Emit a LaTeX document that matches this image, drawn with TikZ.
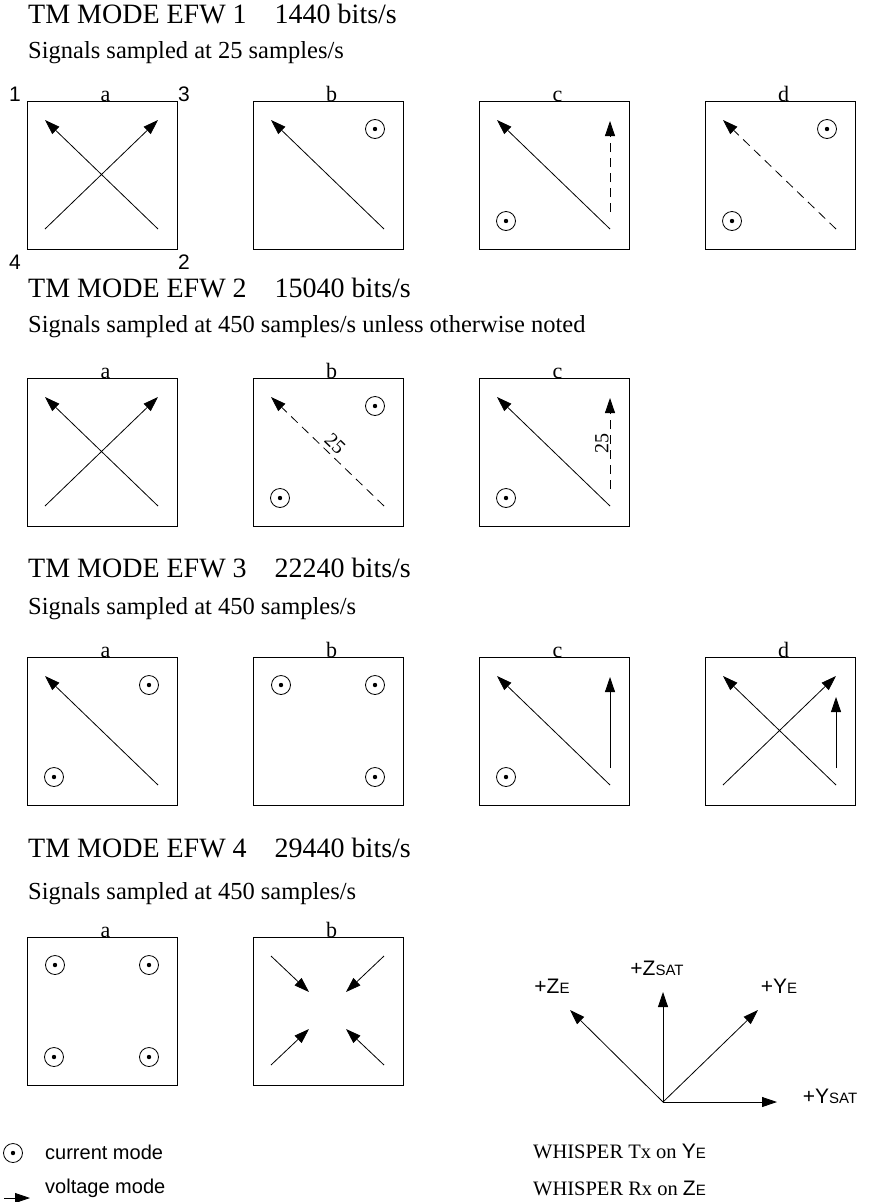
\documentclass[tikz,border=0pt]{standalone}
\usepackage{fontspec}
\setmainfont{Liberation Serif}
\setsansfont{Liberation Sans}
\usetikzlibrary{arrows.meta, positioning}

% corner points inside one 150x148 panel (y runs down)
\newcommand{\pts}{%
  \coordinate (tl) at (18,19);
  \coordinate (tr) at (131,19);
  \coordinate (bl) at (18,128);
  \coordinate (br) at (131,128);
  \coordinate (vb) at (131,111);
  \coordinate (vt) at (131,20);
  \coordinate (ctl) at (28,28);
  \coordinate (ctr) at (122,28);
  \coordinate (cbl) at (27,120);
  \coordinate (cbr) at (122,120);
}
\newcommand{\axlab}[2]{{\sffamily\fontsize{21}{24}\selectfont #1\fontsize{15}{18}\selectfont #2}}

\begin{document}
\begin{tikzpicture}[x=1pt, y=-1pt,
    panel/.style={draw, line width=1pt, minimum width=150pt, minimum height=148pt, inner sep=0pt},
    ttl/.style={anchor=base west, inner sep=0pt, font=\fontsize{28}{32}\selectfont},
    sub/.style={anchor=base west, inner sep=0pt, font=\fontsize{24.5}{28}\selectfont},
    tag/.style={anchor=base, inner sep=0pt, xshift=3pt, font=\fontsize{22}{24}\selectfont},
    num/.style={inner sep=0pt, font=\sffamily\fontsize{21}{24}\selectfont},
    cur/.style={circle, draw, line width=0.8pt, minimum size=19pt, inner sep=0pt,
        path picture={\fill (path picture bounding box.center) circle (2.2pt);}},
    volt/.style={line width=0.8pt, -{Triangle[length=15pt, width=10pt]}},
    dsh/.style={dash pattern=on 9pt off 6pt},
    rate/.style={inner sep=1pt, font=\fontsize{20}{22}\selectfont},
    leg/.style={anchor=base west, inner sep=0pt, font=\sffamily\fontsize{20}{24}\selectfont},
    wsp/.style={anchor=base west, inner sep=0pt, font=\fontsize{20.5}{24}\selectfont}]

\path[use as bounding box, fill=white] (0,0) rectangle (868,1202);

% EFW 1
\node[ttl] (t1) at (28,23) {TM MODE EFW 1\quad 1440 bits/s};
\node[sub] (s1) at (28,58) {Signals sampled at 25 samples/s};
\node[panel, anchor=north west] (p1a) at (27,101) {};
\node[panel, right=75pt of p1a] (p1b) {};
\node[panel, right=75pt of p1b] (p1c) {};
\node[panel, right=75pt of p1c] (p1d) {};
\foreach \p/\t in {p1a/a, p1b/b, p1c/c, p1d/d}
  \node[tag] (\p-tag) at (\p.north) {\t};
\node[num] (n1) at ([xshift=-12pt, yshift=7pt]p1a.north west) {1};
\node[num] (n3) at ([xshift=6pt, yshift=7pt]p1a.north east) {3};
\node[num] (n4) at ([xshift=-12pt, yshift=-12pt]p1a.south west) {4};
\node[num] (n2) at ([xshift=6pt, yshift=-12pt]p1a.south east) {2};

\begin{scope}[shift={(p1a.north west)}]
  \pts
  \draw[volt] (bl) -- (tr);
  \draw[volt] (br) -- (tl);
\end{scope}
\begin{scope}[shift={(p1b.north west)}]
  \pts
  \draw[volt] (br) -- (tl);
  \node[cur] (i1b) at (ctr) {};
\end{scope}
\begin{scope}[shift={(p1c.north west)}]
  \pts
  \draw[volt] (br) -- (tl);
  \draw[volt, dsh] (vb) -- (vt);
  \node[cur] (i1c) at (cbl) {};
\end{scope}
\begin{scope}[shift={(p1d.north west)}]
  \pts
  \draw[volt, dsh] (br) -- (tl);
  \node[cur] (i1d1) at (ctr) {};
  \node[cur] (i1d2) at (cbl) {};
\end{scope}

% EFW 2
\node[ttl] (t2) at (28,297) {TM MODE EFW 2\quad 15040 bits/s};
\node[sub] (s2) at (28,332) {Signals sampled at 450 samples/s unless otherwise noted};
\node[panel, anchor=north west] (p2a) at (27,378) {};
\node[panel, right=75pt of p2a] (p2b) {};
\node[panel, right=75pt of p2b] (p2c) {};
\foreach \p/\t in {p2a/a, p2b/b, p2c/c}
  \node[tag] (\p-tag) at (\p.north) {\t};

\begin{scope}[shift={(p2a.north west)}]
  \pts
  \draw[volt] (bl) -- (tr);
  \draw[volt] (br) -- (tl);
\end{scope}
\begin{scope}[shift={(p2b.north west)}]
  \pts
  \draw[volt, dsh] (br) -- node[rate, sloped, above=3pt] {25} (tl);
  \node[cur] (i2b1) at (ctr) {};
  \node[cur] (i2b2) at (cbl) {};
\end{scope}
\begin{scope}[shift={(p2c.north west)}]
  \pts
  \draw[volt] (br) -- (tl);
  \draw[volt, dsh] (vb) -- node[rate, sloped, above] {25} (vt);
  \node[cur] (i2c) at (cbl) {};
\end{scope}

% EFW 3
\node[ttl] (t3) at (28,577) {TM MODE EFW 3\quad 22240 bits/s};
\node[sub] (s3) at (28,614) {Signals sampled at 450 samples/s};
\node[panel, anchor=north west] (p3a) at (27,657) {};
\node[panel, right=75pt of p3a] (p3b) {};
\node[panel, right=75pt of p3b] (p3c) {};
\node[panel, right=75pt of p3c] (p3d) {};
\foreach \p/\t in {p3a/a, p3b/b, p3c/c, p3d/d}
  \node[tag] (\p-tag) at (\p.north) {\t};

\begin{scope}[shift={(p3a.north west)}]
  \pts
  \draw[volt] (br) -- (tl);
  \node[cur] (i3a1) at (ctr) {};
  \node[cur] (i3a2) at (cbl) {};
\end{scope}
\begin{scope}[shift={(p3b.north west)}]
  \pts
  \node[cur] (i3b1) at (ctl) {};
  \node[cur] (i3b2) at (ctr) {};
  \node[cur] (i3b3) at (cbr) {};
\end{scope}
\begin{scope}[shift={(p3c.north west)}]
  \pts
  \draw[volt] (br) -- (tl);
  \draw[volt] (vb) -- (vt);
  \node[cur] (i3c) at (cbl) {};
\end{scope}
\begin{scope}[shift={(p3d.north west)}]
  \pts
  \coordinate (vs) at (131,40);
  \draw[volt] (bl) -- (tr);
  \draw[volt] (br) -- (tl);
  \draw[volt] (vb) -- (vs);
\end{scope}

% EFW 4
\node[ttl] (t4) at (28,857) {TM MODE EFW 4\quad 29440 bits/s};
\node[sub] (s4) at (28,899) {Signals sampled at 450 samples/s};
\node[panel, anchor=north west] (p4a) at (27,937) {};
\node[panel, right=75pt of p4a] (p4b) {};
\foreach \p/\t in {p4a/a, p4b/b}
  \node[tag] (\p-tag) at (\p.north) {\t};

\begin{scope}[shift={(p4a.north west)}]
  \pts
  \node[cur] (i4a1) at (ctl) {};
  \node[cur] (i4a2) at (ctr) {};
  \node[cur] (i4a3) at (cbl) {};
  \node[cur] (i4a4) at (cbr) {};
\end{scope}
\begin{scope}[shift={(p4b.north west)}]
  \pts
  \coordinate (itl) at (56,55);
  \coordinate (itr) at (93,55);
  \coordinate (ibl) at (56,92);
  \coordinate (ibr) at (93,92);
  \draw[volt] (tl) -- (itl);
  \draw[volt] (tr) -- (itr);
  \draw[volt] (bl) -- (ibl);
  \draw[volt] (br) -- (ibr);
\end{scope}

% axes
\coordinate (o) at (663,1102);
\coordinate (zs) at (663,992);
\coordinate (ze) at (570,1010);
\coordinate (ye) at (758,1010);
\coordinate (ys) at (777,1102);
\foreach \e in {zs, ze, ye, ys}
  \draw[volt] (o) -- (\e);
\node[inner sep=0pt, anchor=base] (lze) at (552,993) {\axlab{+Z}{E}};
\node[inner sep=0pt, anchor=base] (lzs) at (657,975) {\axlab{+Z}{SAT}};
\node[inner sep=0pt, anchor=base] (lye) at (779,993) {\axlab{+Y}{E}};
\node[inner sep=0pt, anchor=base] (lys) at (830,1103) {\axlab{+Y}{SAT}};

% legend
\node[cur] (lgc) at (13,1153) {};
\node[leg] (lgct) at (45,1159) {current mode};
\coordinate (la0) at (4,1198);
\coordinate (la1) at (30,1198);
\draw[volt] (la0) -- (la1);
\node[leg] (lgvt) at (45,1193) {voltage mode};

\node[wsp] (w1) at (533,1158) {WHISPER Tx on \axlab{Y}{E}};
\node[wsp] (w2) at (533,1195) {WHISPER Rx on \axlab{Z}{E}};

\end{tikzpicture}
\end{document}
